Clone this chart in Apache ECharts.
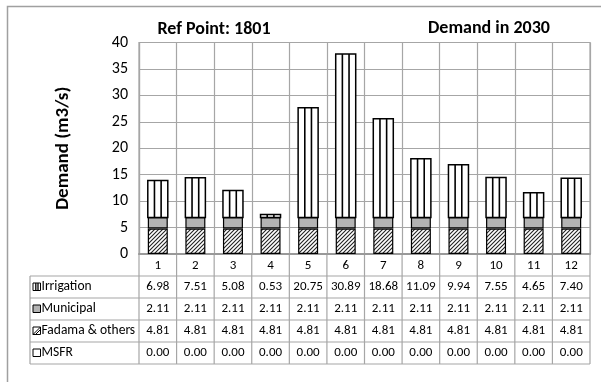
<!DOCTYPE html>
<html>
<head>
<meta charset="utf-8">
<script src="https://cdn.jsdelivr.net/npm/echarts@6/dist/echarts.min.js"></script>
<style>
  html, body { margin: 0; padding: 0; background: #fff; }
  #chart { width: 601px; height: 382px; }
</style>
</head>
<body>
<div id="chart"></div>
<script>
// data
var months = ['1', '2', '3', '4', '5', '6', '7', '8', '9', '10', '11', '12'];
var irrigation = [6.98, 7.51, 5.08, 0.53, 20.75, 30.89, 18.68, 11.09, 9.94, 7.55, 4.65, 7.40];
var municipal = [2.11, 2.11, 2.11, 2.11, 2.11, 2.11, 2.11, 2.11, 2.11, 2.11, 2.11, 2.11];
var fadama = [4.81, 4.81, 4.81, 4.81, 4.81, 4.81, 4.81, 4.81, 4.81, 4.81, 4.81, 4.81];
var msfr = [0, 0, 0, 0, 0, 0, 0, 0, 0, 0, 0, 0];
var yTicks = [0, 40, 5];

var font = 'Carlito, "Open Sans", sans-serif';
var gridColor = '#a6a6a6';

// layout
var gridLeft = 139, gridRight = 590, gridTop = 42.5, gridBottom = 254;
var tableLeft = 30, rowH = 22;
var barW = 20;

//斜线填充
function hatchPattern() {
    var c = document.createElement('canvas');
    c.width = 4; c.height = 4;
    var ctx = c.getContext('2d');
    ctx.fillStyle = '#fff';
    ctx.fillRect(0, 0, 4, 4);
    ctx.strokeStyle = '#222';
    ctx.lineWidth = 1.1;
    ctx.beginPath();
    ctx.moveTo(0, 4); ctx.lineTo(4, 0);
    ctx.moveTo(-1, 1); ctx.lineTo(1, -1);
    ctx.moveTo(3, 5); ctx.lineTo(5, 3);
    ctx.stroke();
    return c;
}
var hatch = { image: hatchPattern(), repeat: 'repeat' };

var chart = echarts.init(document.getElementById('chart'));

// table graphics
var rows = [
    { name: 'Irrigation', values: irrigation, icon: 'irr' },
    { name: 'Municipal', values: municipal, icon: 'mun' },
    { name: 'Fadama & others', values: fadama, icon: 'fad' },
    { name: 'MSFR', values: msfr, icon: 'msfr' }
];
var colW = (gridRight - gridLeft) / months.length;
var graphics = [];
// outer frame
graphics.push({
    type: 'rect', shape: { x: 7.5, y: 6.5, width: 700, height: 500 },
    style: { fill: 'none', stroke: '#a0a0a0', lineWidth: 1.5 }, silent: true
});
var tableTop = gridBottom + rowH;
var tableBottom = tableTop + rows.length * rowH;
// horizontal lines
for (var r = 0; r <= rows.length; r++) {
    var yy = tableTop + r * rowH;
    graphics.push({
        type: 'line', shape: { x1: tableLeft, y1: yy, x2: gridRight, y2: yy },
        style: { stroke: gridColor, lineWidth: 1.2 }
    });
}
// vertical lines
graphics.push({
    type: 'line', shape: { x1: tableLeft, y1: tableTop, x2: tableLeft, y2: tableBottom },
    style: { stroke: gridColor, lineWidth: 1.2 }
});
for (var c = 0; c <= months.length; c++) {
    var xx = gridLeft + c * colW;
    graphics.push({
        type: 'line', shape: { x1: xx, y1: gridBottom, x2: xx, y2: tableBottom },
        style: { stroke: gridColor, lineWidth: 1.2 }
    });
}
// cells
rows.forEach(function (row, r) {
    var cy = tableTop + r * rowH + rowH / 2;
    var ix = 33, iy = cy - 4, is = 7.5;
    if (row.icon === 'irr') {
        graphics.push({ type: 'rect', shape: { x: ix, y: iy, width: is, height: is }, style: { fill: '#fff', stroke: '#000', lineWidth: 1 } });
        graphics.push({ type: 'line', shape: { x1: ix + 2.8, y1: iy, x2: ix + 2.8, y2: iy + is }, style: { stroke: '#000', lineWidth: 1.3 } });
        graphics.push({ type: 'line', shape: { x1: ix + 5, y1: iy, x2: ix + 5, y2: iy + is }, style: { stroke: '#000', lineWidth: 1.3 } });
    } else if (row.icon === 'mun') {
        graphics.push({ type: 'rect', shape: { x: ix, y: iy, width: is, height: is }, style: { fill: '#b3b3b3', stroke: '#000', lineWidth: 1 } });
    } else if (row.icon === 'fad') {
        graphics.push({ type: 'rect', shape: { x: ix, y: iy, width: is, height: is }, style: { fill: '#fff', stroke: '#000', lineWidth: 1 } });
        graphics.push({ type: 'line', shape: { x1: ix, y1: iy + is, x2: ix + is, y2: iy }, style: { stroke: '#000', lineWidth: 1 } });
        graphics.push({ type: 'line', shape: { x1: ix + 2.5, y1: iy + is, x2: ix + is, y2: iy + 2.5 }, style: { stroke: '#000', lineWidth: 1 } });
    } else {
        graphics.push({ type: 'rect', shape: { x: ix, y: iy, width: is, height: is }, style: { fill: '#fff', stroke: '#000', lineWidth: 1 } });
    }
    graphics.push({
        type: 'text', x: 41.5, y: cy,
        style: { text: row.name, font: '13.5px ' + font, fill: '#000', verticalAlign: 'middle' }
    });
    row.values.forEach(function (v, i) {
        graphics.push({
            type: 'text', x: gridLeft + (i + 0.5) * colW, y: cy,
            style: { text: v.toFixed(2), font: '13px ' + font, fill: '#000', align: 'center', verticalAlign: 'middle' }
        });
    });
});
// titles
graphics.push({ type: 'text', x: 214, y: 29, style: { text: 'Ref Point: 1801', font: 'bold 18px ' + font, fill: '#000', align: 'center', verticalAlign: 'middle' } });
graphics.push({ type: 'text', x: 489, y: 28, style: { text: 'Demand in 2030', font: 'bold 18px ' + font, fill: '#000', align: 'center', verticalAlign: 'middle' } });

var irrData = irrigation.map(function (v, i) {
    return [i, fadama[i] + municipal[i], fadama[i] + municipal[i] + v];
});

chart.setOption({
    animation: false,
    textStyle: { fontFamily: font },
    grid: {
        left: gridLeft, right: 601 - gridRight, top: gridTop, bottom: 382 - gridBottom,
        show: true, borderColor: gridColor, borderWidth: 1.2
    },
    xAxis: {
        type: 'category',
        data: months,
        axisLine: { show: true, lineStyle: { color: '#999', width: 2 } },
        axisTick: { show: false },
        axisLabel: { color: '#000', fontSize: 13, margin: 5, interval: 0 },
        splitLine: { show: true, interval: 0, lineStyle: { color: gridColor, width: 1.2 } }
    },
    yAxis: {
        type: 'value',
        min: yTicks[0], max: yTicks[1], interval: yTicks[2],
        name: 'Demand (m3/s)',
        nameLocation: 'middle',
        nameRotate: 90,
        nameGap: 66,
        nameTextStyle: { fontSize: 19, fontWeight: 'bold', color: '#000' },
        axisLine: { show: true, lineStyle: { color: gridColor, width: 1.2 } },
        axisTick: { show: false },
        axisLabel: { color: '#000', fontSize: 16, margin: 11 },
        splitLine: { lineStyle: { color: gridColor, width: 1.2 } }
    },
    series: [
        {
            name: 'Fadama & others', type: 'bar', stack: 'd', data: fadama, barWidth: barW,
            itemStyle: { color: hatch, borderColor: '#000', borderWidth: 1.2 }
        },
        {
            name: 'Municipal', type: 'bar', stack: 'd', data: municipal, barWidth: barW,
            itemStyle: { color: '#b3b3b3', borderColor: '#000', borderWidth: 1.2 }
        },
        {
            name: 'Irrigation', type: 'custom', data: irrData,
            encode: { x: 0, y: [1, 2] },
            renderItem: function (params, api) {
                var base = api.coord([api.value(0), api.value(1)]);
                var top = api.coord([api.value(0), api.value(2)]);
                var x0 = base[0] - barW / 2;
                var h = base[1] - top[1];
                return {
                    type: 'group',
                    children: [
                        { type: 'rect', shape: { x: x0, y: top[1], width: barW, height: h }, style: { fill: '#fff', stroke: '#000', lineWidth: 1.5 } },
                        { type: 'line', shape: { x1: x0 + barW / 3, y1: top[1], x2: x0 + barW / 3, y2: base[1] }, style: { stroke: '#000', lineWidth: 1.6 } },
                        { type: 'line', shape: { x1: x0 + barW * 2 / 3, y1: top[1], x2: x0 + barW * 2 / 3, y2: base[1] }, style: { stroke: '#000', lineWidth: 1.6 } }
                    ]
                };
            }
        },
        {
            name: 'MSFR', type: 'bar', stack: 'd2', data: msfr, barWidth: barW, barGap: '-100%',
            itemStyle: { color: '#fff', borderWidth: 0 }
        }
    ],
    graphic: graphics
});
</script>
</body>
</html>
